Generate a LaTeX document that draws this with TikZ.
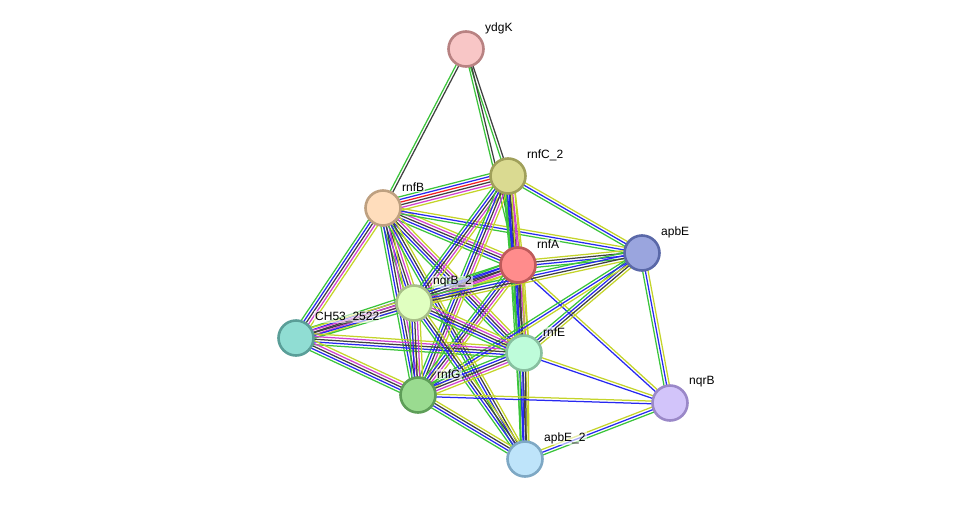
\documentclass[tikz,border=0pt]{standalone}
\usepackage{fontspec}
\setmainfont{Liberation Sans}
\usetikzlibrary{calc}
\pgfdeclarelayer{edges}
\pgfsetlayers{edges,main}
\definecolor{eG}{HTML}{3BC43B}
\definecolor{eK}{HTML}{404040}
\definecolor{eB}{HTML}{2828F0}
\definecolor{eM}{HTML}{D040D0}
\definecolor{eY}{HTML}{C4D42A}
\definecolor{eR}{HTML}{F02020}
\tikzset{
  prot/.style={circle, minimum size=35pt, inner sep=0pt, line width=2.6pt},
  lbl/.style={anchor=west, font=\fontsize{12}{12}\selectfont, fill=white, fill opacity=0.6, text opacity=1, inner sep=1pt},
  eline/.style={line width=1.25pt}
}
\newcommand\ed[3]{%
  \foreach \c [count=\i] in {#3} {\xdef\ncount{\i}}%
  \foreach \c [count=\i] in {#3} {%
    \pgfmathsetmacro\off{(\i-(\ncount+1)/2)*2.7}%
    \draw[eline,draw=\c] ($(#1)!\off pt!90:(#2)$) -- ($(#2)!\off pt!-90:(#1)$);
  }}
\begin{document}
\begin{tikzpicture}[x=1pt,y=-1pt]
\useasboundingbox (0,0) rectangle (975,504);
% nodes
\node[prot, fill={rgb,255:red,248;green,198;blue,198}, draw={rgb,255:red,184;green,130;blue,130}] (ydgK) at (466,49) {};
\node[prot, fill={rgb,255:red,218;green,218;blue,145}, draw={rgb,255:red,160;green,160;blue,90}] (rnfC2) at (508,176) {};
\node[prot, fill={rgb,255:red,255;green,221;blue,188}, draw={rgb,255:red,190;green,160;blue,128}] (rnfB) at (383,208) {};
\node[prot, fill={rgb,255:red,255;green,140;blue,140}, draw={rgb,255:red,190;green,90;blue,90}] (rnfA) at (518,265) {};
\node[prot, fill={rgb,255:red,154;green,165;blue,222}, draw={rgb,255:red,90;green,104;blue,168}] (apbE) at (642,253) {};
\node[prot, fill={rgb,255:red,224;green,255;blue,192}, draw={rgb,255:red,168;green,192;blue,136}] (nqrB2) at (414,303) {};
\node[prot, fill={rgb,255:red,144;green,221;blue,211}, draw={rgb,255:red,90;green,158;blue,152}] (CH53) at (296,338) {};
\node[prot, fill={rgb,255:red,190;green,252;blue,218}, draw={rgb,255:red,136;green,192;blue,160}] (rnfE) at (524,353) {};
\node[prot, fill={rgb,255:red,154;green,219;blue,144}, draw={rgb,255:red,94;green,158;blue,88}] (rnfG) at (418,395) {};
\node[prot, fill={rgb,255:red,210;green,196;blue,250}, draw={rgb,255:red,154;green,136;blue,200}] (nqrB) at (670,403) {};
\node[prot, fill={rgb,255:red,190;green,228;blue,250}, draw={rgb,255:red,126;green,168;blue,196}] (apbE2) at (525,459) {};
% labels
\node[lbl] (lydgK) at ($(ydgK)+(18,-21)$) {ydgK};
\node[lbl] (lrnfC2) at ($(rnfC2)+(18,-21)$) {rnfC\_2};
\node[lbl] (lrnfB) at ($(rnfB)+(18,-21)$) {rnfB};
\node[lbl] (lrnfA) at ($(rnfA)+(18,-21)$) {rnfA};
\node[lbl] (lapbE) at ($(apbE)+(18,-21)$) {apbE};
\node[lbl] (lnqrB2) at ($(nqrB2)+(18,-21)$) {nqrB\_2};
\node[lbl] (lCH53) at ($(CH53)+(18,-21)$) {CH53\_2522};
\node[lbl] (lrnfE) at ($(rnfE)+(18,-21)$) {rnfE};
\node[lbl] (lrnfG) at ($(rnfG)+(18,-21)$) {rnfG};
\node[lbl] (lnqrB) at ($(nqrB)+(18,-21)$) {nqrB};
\node[lbl] (lapbE2) at ($(apbE2)+(18,-21)$) {apbE\_2};
% edges
\begin{pgfonlayer}{edges}
\ed{ydgK}{rnfB}{eG,eK}
\ed{ydgK}{rnfC2}{eG,eK}
\ed{ydgK}{rnfA}{eG,eK}
\ed{rnfB}{rnfC2}{eY,eM,eK,eR,eB,eG}
\ed{rnfB}{rnfA}{eG,eB,eK,eM,eY}
\ed{rnfB}{apbE}{eG,eB,eY}
\ed{rnfB}{nqrB2}{eG,eB,eK,eM,eY}
\ed{rnfB}{CH53}{eG,eB,eK,eM,eY}
\ed{rnfB}{rnfE}{eG,eB,eK,eM,eY}
\ed{rnfB}{rnfG}{eG,eB,eK,eM,eY}
\ed{rnfB}{apbE2}{eG,eB,eK,eY}
\ed{rnfC2}{rnfA}{eG,eB,eK,eM,eY}
\ed{rnfC2}{apbE}{eG,eB,eY}
\ed{rnfC2}{nqrB2}{eG,eB,eK,eM,eY}
\ed{rnfC2}{rnfE}{eG,eB,eK,eM,eY}
\ed{rnfC2}{rnfG}{eG,eB,eK,eM,eY}
\ed{rnfC2}{apbE2}{eG,eB,eY}
\ed{rnfA}{apbE}{eG,eB,eK,eY}
\ed{rnfA}{nqrB2}{eG,eB,eK,eM,eY}
\ed{rnfA}{CH53}{eG,eB,eK,eM,eY}
\ed{rnfA}{rnfE}{eG,eB,eK,eM,eY}
\ed{rnfA}{rnfG}{eG,eB,eK,eM,eY}
\ed{rnfA}{nqrB}{eB,eY}
\ed{rnfA}{apbE2}{eG,eB,eK,eY}
\ed{apbE}{nqrB2}{eG,eB,eK,eY}
\ed{apbE}{rnfE}{eG,eB,eK,eY}
\ed{apbE}{rnfG}{eG,eB,eY}
\ed{apbE}{nqrB}{eG,eB,eY}
\ed{CH53}{nqrB2}{eG,eB,eK,eM,eY}
\ed{CH53}{rnfE}{eG,eB,eK,eM,eY}
\ed{CH53}{rnfG}{eG,eB,eK,eM,eY}
\ed{nqrB2}{rnfE}{eG,eB,eK,eM,eY}
\ed{nqrB2}{rnfG}{eG,eB,eK,eM,eY}
\ed{nqrB2}{apbE2}{eG,eB,eK,eY}
\ed{rnfE}{rnfG}{eG,eB,eK,eM,eY}
\ed{rnfE}{apbE2}{eG,eB,eK,eY}
\ed{rnfE}{nqrB}{eB,eY}
\ed{rnfG}{apbE2}{eG,eB,eK,eY}
\ed{rnfG}{nqrB}{eB,eY}
\ed{apbE2}{nqrB}{eG,eB,eY}
\end{pgfonlayer}
\end{tikzpicture}
\end{document}
